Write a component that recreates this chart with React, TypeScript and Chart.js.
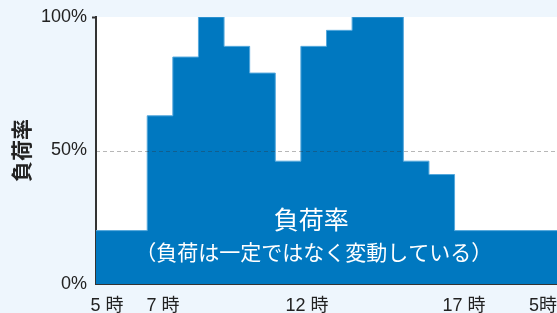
import React, { useEffect, useRef } from 'react';
import { Chart, registerables } from 'chart.js';

Chart.register(...registerables);

// Hour boundaries (step starts) and load rate (%) held until next boundary
const hourEdges = [5, 7, 8, 9, 10, 11, 12, 13, 14, 15, 17, 18, 19, 23];
const loadRates = [20, 63, 85, 100, 89, 79, 46, 89, 95, 100, 46, 41, 20, 20];

// X tick labels and where they sit on the hour scale
const xTickValues = [5.43, 7.62, 13.24, 19.37, 22.45];
const xTickLabels = ['5 時', '7 時', '12 時', '17 時', '5時'];

const yTickValues = [0, 50, 100];
const yTitle = '負荷率';
const mainLabel = '負荷率';
const subLabel = '（負荷は一定ではなく変動している）';
const refLineValue = 50;

const FONT = '"Liberation Sans", "Noto Sans CJK JP", Arial, sans-serif';
const CJK = '"Noto Sans CJK JP", "Liberation Sans", sans-serif';

const plotBg = {
  id: 'plotBg',
  beforeDraw(chart: any) {
    const { ctx, chartArea: a } = chart;
    ctx.save();
    ctx.fillStyle = '#ffffff';
    ctx.fillRect(a.left, a.top, a.right - a.left, a.bottom - a.top);
    ctx.restore();
  },
};

const overlay = {
  id: 'overlay',
  afterDatasetsDraw(chart: any) {
    const { ctx, chartArea: a, scales } = chart;
    const y = scales.y.getPixelForValue(refLineValue);
    ctx.save();
    ctx.strokeStyle = 'rgba(50,50,50,0.35)';
    ctx.lineWidth = 1;
    ctx.setLineDash([4, 3]);
    ctx.beginPath();
    ctx.moveTo(a.left, Math.round(y) + 0.5);
    ctx.lineTo(a.right, Math.round(y) + 0.5);
    ctx.stroke();
    ctx.setLineDash([]);

    ctx.fillStyle = '#ffffff';
    ctx.textAlign = 'center';
    ctx.textBaseline = 'middle';
    ctx.font = '25px ' + CJK;
    ctx.fillText(mainLabel, scales.x.getPixelForValue(13.4), scales.y.getPixelForValue(24));
    ctx.font = '21px ' + CJK;
    ctx.fillText(subLabel, scales.x.getPixelForValue(13.5), scales.y.getPixelForValue(12));
    ctx.restore();
  },
};

export default function App() {
  const ref = useRef<HTMLCanvasElement | null>(null);

  useEffect(() => {
    if (!ref.current) return;
    const points = hourEdges.map((h, i) => ({ x: h, y: loadRates[i] }));
    const chart = new Chart(ref.current, {
      type: 'line',
      data: {
        datasets: [
          {
            data: points,
            stepped: true,
            fill: 'origin',
            backgroundColor: '#0078c0',
            borderColor: '#55a8dc',
            borderWidth: 1,
            pointRadius: 0,
          },
        ],
      },
      options: {
        responsive: false,
        animation: false,
        devicePixelRatio: 1,
        layout: { padding: { top: 17, left: 0, right: 0, bottom: 0 } },
        plugins: { legend: { display: false }, tooltip: { enabled: false } },
        scales: {
          x: {
            type: 'linear',
            min: 5,
            max: 23,
            z: 1,
            grid: { display: false },
            border: { display: true, color: '#333333', width: 2 },
            afterBuildTicks: (scale: any) => {
              scale.ticks = xTickValues.map((v) => ({ value: v }));
            },
            afterFit: (scale: any) => {
              scale.height = 29;
              scale.paddingLeft = 0;
              scale.paddingRight = 0;
            },
            ticks: {
              autoSkip: false,
              maxRotation: 0,
              minRotation: 0,
              padding: 3,
              color: '#222222',
              font: { size: 18, family: FONT },
              callback: (_v: any, i: number) => xTickLabels[i],
            },
          },
          y: {
            min: 0,
            max: 100,
            z: 1,
            afterBuildTicks: (scale: any) => {
              scale.ticks = yTickValues.map((v) => ({ value: v }));
            },
            afterFit: (scale: any) => {
              scale.width = 96;
            },
            grid: {
              display: true,
              drawOnChartArea: false,
              drawTicks: true,
              tickLength: 4,
              color: 'rgba(0,0,0,0)',
              tickColor: (c: any) => (c.tick && c.tick.value === 100 ? '#333333' : 'rgba(0,0,0,0)'),
              tickWidth: 2,
            },
            border: { display: true, color: '#333333', width: 2 },
            ticks: {
              padding: 5,
              color: '#222222',
              font: { size: 18, family: FONT },
              callback: (v: any) => v + '%',
            },
            title: {
              display: true,
              text: yTitle,
              color: '#222222',
              font: { size: 21, weight: 'bold', family: CJK },
              padding: { top: 8, bottom: 0 },
            },
          },
        },
      },
      plugins: [plotBg, overlay],
    } as any);
    return () => chart.destroy();
  }, []);

  return (
    <div
      style={{
        position: 'fixed',
        left: 0,
        top: 0,
        width: 557,
        height: 313,
        background: '#eef6fd',
        overflow: 'hidden',
      }}
    >
      <canvas ref={ref} width={557} height={313} style={{ display: 'block', width: 557, height: 313 }} />
    </div>
  );
}
